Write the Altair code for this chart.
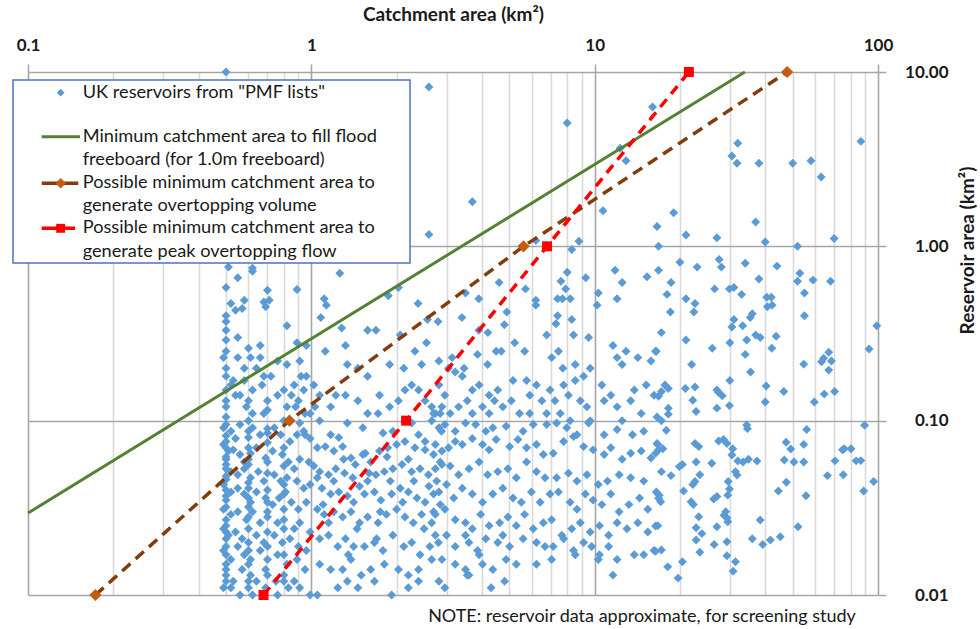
import altair as alt
import pandas as pd

# ---------------- data (km²) ----------------
x_ticks = [0.1, 1, 10, 100]
y_ticks = [0.01, 0.1, 1, 10]
x_minor = [0.2, 0.3, 0.4, 0.5, 0.6, 0.7, 0.8, 0.9,
           2, 3, 4, 5, 6, 7, 8, 9,
           20, 30, 40, 50, 60, 70, 80, 90]

fill_catch = [0.1, 33.9]
fill_res = [0.0295, 10.0]
vol_catch = [0.173, 0.837, 5.61, 47.8]
vol_res = [0.01, 0.1, 1.0, 10.0]
peak_catch = [0.678, 2.16, 6.79, 21.5]
peak_res = [0.01, 0.1, 1.0, 10.0]

res_upper = [
    (0.5, 10.0), (2.6, 8.2), (2.6, 1.17), (8.0, 5.1), (3.7, 1.8), (16, 6.3), (12.3, 3.65), (12.9, 3.1),
    (10.7, 1.6), (16.6, 1.3), (16.8, 1.0), (16.8, 0.73), (6.2, 1.08), (8.8, 1.07), (8.3, 0.96), (8.0, 0.71),
    (9.3, 0.66), (11.8, 0.73), (12.5, 0.62), (15.3, 0.67), (12.0, 0.50), (10.3, 0.54), (10.2, 0.46),
    (7.6, 0.63), (7.9, 0.57), (7.4, 0.50), (7.7, 0.50), (8.2, 0.50), (6.2, 0.49), (6.2, 0.46), (5.7, 0.57),
    (4.6, 0.62), (3.5, 0.54), (3.9, 0.50), (4.9, 0.42), (3.4, 0.39), (2.8, 0.37), (7.4, 0.40), (7.3, 0.36),
    (8.3, 0.38), (4.8, 0.355), (3.9, 0.33), (4.2, 0.32),
    (0.51, 0.76), (0.55, 0.66), (0.62, 0.72), (0.50, 0.58), (0.70, 0.56), (0.89, 0.565), (0.58, 0.49),
    (0.57, 0.44), (0.68, 0.48), (0.71, 0.49), (0.69, 0.45), (0.52, 0.47), (0.54, 0.43), (0.82, 0.35),
    (1.26, 0.70), (1.11, 0.50), (1.13, 0.46), (1.08, 0.39), (1.28, 0.34), (1.58, 0.33), (1.69, 0.33),
    (1.87, 0.52), (2.03, 0.58), (2.38, 0.47), (2.57, 0.38), (2.06, 0.31), (0.62, 0.75),
]
res_far_upper = [
    (32, 3.9), (30.5, 3.3), (31.8, 3.0), (38, 3.0), (50, 3.0), (58, 3.1), (63, 2.5), (87, 4.0), (19, 1.56),
    (21, 1.16), (27, 1.12), (37, 1.38), (40, 1.06), (52, 1.0), (70, 1.11), (20, 0.81), (23, 0.76),
    (27.5, 0.84), (28, 0.76), (34, 0.80), (44, 0.77), (53, 0.70), (52, 0.63), (59, 0.64), (68, 0.63),
    (55, 0.54), (55, 0.40), (18.6, 0.62), (18, 0.53), (18.5, 0.42), (21, 0.50), (22.6, 0.47), (22.4, 0.42),
    (26.5, 0.57), (29.9, 0.57), (31, 0.58), (33, 0.53), (38, 0.65), (40.5, 0.51), (42, 0.51), (40.7, 0.45),
    (42.3, 0.46), (31, 0.38), (33.3, 0.35), (30.5, 0.345), (36, 0.41), (35.4, 0.39), (99, 0.35), (17.2, 0.32),
]
res_far_lower = [
    (21, 0.29), (26, 0.26), (30, 0.28), (34, 0.24), (34.4, 0.29), (38.4, 0.30), (43.7, 0.305), (37, 0.31),
    (42.2, 0.26), (22, 0.21), (35.5, 0.19), (30, 0.17), (17.7, 0.16), (17.2, 0.147), (16.8, 0.138),
    (18.2, 0.153), (20.9, 0.153), (22.6, 0.156), (22.2, 0.131), (22.8, 0.113), (27, 0.150), (28.2, 0.139),
    (27.4, 0.145), (27, 0.118), (29.9, 0.122), (40.3, 0.158), (40, 0.128), (46.5, 0.147), (54.7, 0.211),
    (59.6, 0.128), (64.6, 0.142), (70.3, 0.147), (63.2, 0.218), (64.3, 0.228), (67, 0.247), (68.5, 0.22),
    (67, 0.195), (93, 0.258), (18.2, 0.118), (18.2, 0.109), (16.6, 0.105), (16.4, 0.25),
    (34.4, 0.0945), (34.6, 0.090), (56, 0.089), (89.7, 0.094), (17.9, 0.088), (16.6, 0.074), (16.4, 0.065),
    (17.4, 0.069), (16.8, 0.068), (22.6, 0.074), (23.3, 0.071), (27.4, 0.0765), (28.5, 0.078), (29.3, 0.074),
    (30.7, 0.069), (30.5, 0.0635), (32.0, 0.0587), (33.4, 0.058), (34.9, 0.060), (37.4, 0.0587), (25.9, 0.057),
    (22.8, 0.058), (19.9, 0.0545), (20.4, 0.056), (18.6, 0.0484), (23.5, 0.049), (22.6, 0.0448), (22.2, 0.043),
    (31.4, 0.051), (31.8, 0.0488), (29.6, 0.0448), (29.9, 0.0406), (29.5, 0.0374), (20.6, 0.0395),
    (16.8, 0.0359), (17.1, 0.0343), (16.9, 0.0374), (21.9, 0.0343), (22.3, 0.033), (26.3, 0.0355),
    (27.0, 0.0367), (29.0, 0.030), (28.6, 0.0287), (29.3, 0.0277), (29.5, 0.0263), (23.3, 0.0281),
    (22.8, 0.0243), (23.9, 0.0225), (22.8, 0.0207), (27, 0.0246), (23.5, 0.0176), (26.4, 0.0195),
    (29.3, 0.0202), (29.3, 0.0168), (31.4, 0.0155), (30.8, 0.0137), (20.4, 0.0155), (18.1, 0.0145),
    (19.7, 0.0125), (17.2, 0.0181), (16.4, 0.0249), (16.4, 0.0178), (38.4, 0.0269), (36, 0.021),
    (39.2, 0.0195), (41.7, 0.0207), (45.2, 0.0216), (52.2, 0.0246), (44.5, 0.0395), (47.5, 0.0443),
    (55.7, 0.0371), (46.7, 0.0595), (47.4, 0.0752), (49.2, 0.0687), (50.5, 0.058), (54.7, 0.058),
    (54.7, 0.0731), (66.3, 0.0484), (70.5, 0.0588), (75.4, 0.049), (74.9, 0.068), (80.3, 0.069),
    (83.7, 0.0588), (89, 0.0395), (96.5, 0.0448), (76, 0.069), (87, 0.059),
]
res_left_top = [
    (0.50, 0.29), (0.55, 0.30), (0.66, 0.27), (0.66, 0.23), (0.55, 0.23), (0.49, 0.23), (0.50, 0.20),
    (0.58, 0.20), (0.61, 0.23), (0.89, 0.28), (0.96, 0.27), (0.91, 0.22), (0.82, 0.21), (0.76, 0.22),
    (0.72, 0.18), (0.68, 0.18), (0.64, 0.20), (0.67, 0.16), (0.62, 0.15), (0.58, 0.17), (0.53, 0.17),
    (0.52, 0.16), (0.50, 0.12), (0.54, 0.14), (0.56, 0.14), (0.59, 0.12), (0.62, 0.11), (0.68, 0.11),
    (0.70, 0.115), (0.76, 0.14), (0.80, 0.15), (0.87, 0.16), (0.92, 0.18), (0.96, 0.18), (0.85, 0.14),
    (0.90, 0.13), (0.94, 0.15), (0.82, 0.12), (0.88, 0.12), (0.95, 0.11), (0.91, 0.097), (0.95, 0.083),
    (1.12, 0.25), (1.32, 0.27), (1.34, 0.21), (1.46, 0.20), (1.58, 0.18), (1.89, 0.21), (2.12, 0.20),
    (2.32, 0.25), (2.45, 0.21), (2.55, 0.28), (2.26, 0.16), (2.39, 0.15), (2.52, 0.13), (2.66, 0.12),
    (2.70, 0.11), (2.14, 0.15), (2.03, 0.13), (1.89, 0.12), (1.74, 0.14), (1.72, 0.11), (1.58, 0.11),
    (1.46, 0.13), (1.32, 0.14), (1.22, 0.14), (1.17, 0.12), (1.07, 0.14), (1.02, 0.16), (1.03, 0.12),
    (1.17, 0.083), (1.34, 0.097), (1.52, 0.091), (1.79, 0.085), (1.94, 0.087), (2.26, 0.097), (2.39, 0.083),
    (2.52, 0.076), (2.66, 0.10), (2.85, 0.11), (2.88, 0.087), (1.07, 0.10), (0.99, 0.11),
]
res_left_low = [
    (0.49, 0.091), (0.52, 0.087), (0.54, 0.079), (0.56, 0.095), (0.60, 0.087), (0.62, 0.091), (0.66, 0.083),
    (0.70, 0.085), (0.74, 0.091), (0.78, 0.083), (0.84, 0.076), (0.89, 0.083), (0.94, 0.087), (0.99, 0.079),
    (1.05, 0.070), (1.12, 0.071), (1.20, 0.067), (1.29, 0.071), (1.38, 0.061), (1.43, 0.056), (1.52, 0.064),
    (1.62, 0.058), (1.74, 0.067), (1.86, 0.070), (2.0, 0.073), (2.14, 0.076), (2.32, 0.070), (2.52, 0.068),
    (2.70, 0.064), (2.85, 0.058), (0.49, 0.073), (0.51, 0.067), (0.53, 0.068), (0.56, 0.064), (0.58, 0.058),
    (0.61, 0.065), (0.64, 0.070), (0.69, 0.061), (0.73, 0.067), (0.79, 0.064), (0.83, 0.058), (0.87, 0.053),
    (0.91, 0.060), (0.98, 0.058), (1.02, 0.055), (1.07, 0.051), (1.15, 0.049), (1.22, 0.053), (1.31, 0.050),
    (1.40, 0.047), (1.48, 0.042), (1.58, 0.045), (1.69, 0.049), (1.81, 0.051), (1.94, 0.053), (2.09, 0.056),
    (2.26, 0.051), (2.42, 0.053), (2.59, 0.049), (2.77, 0.045), (0.50, 0.053), (0.52, 0.051), (0.55, 0.049),
    (0.58, 0.053), (0.61, 0.047), (0.65, 0.051), (0.68, 0.045), (0.74, 0.049), (0.78, 0.045), (0.82, 0.047),
    (0.89, 0.045), (0.94, 0.041), (0.99, 0.043), (1.09, 0.041), (1.17, 0.038), (1.25, 0.039), (1.34, 0.037),
    (1.41, 0.034), (1.54, 0.038), (1.67, 0.039), (1.76, 0.035), (1.92, 0.038), (2.06, 0.041), (2.20, 0.039),
    (2.36, 0.036), (2.52, 0.034), (2.70, 0.038), (2.85, 0.033), (0.49, 0.043), (0.52, 0.039), (0.55, 0.041),
    (0.58, 0.038), (0.61, 0.034), (0.64, 0.039), (0.69, 0.036), (0.73, 0.033), (0.77, 0.036), (0.81, 0.039),
    (0.85, 0.034), (0.90, 0.031), (0.96, 0.034), (1.05, 0.031), (1.11, 0.029), (1.20, 0.030), (1.29, 0.028),
    (1.38, 0.030), (1.48, 0.026), (1.58, 0.028), (1.72, 0.026), (1.84, 0.029), (2.0, 0.031), (2.14, 0.028),
    (2.29, 0.026), (2.45, 0.029), (2.66, 0.026), (0.49, 0.031), (0.52, 0.029), (0.55, 0.030), (0.59, 0.027),
    (0.62, 0.030), (0.66, 0.026), (0.70, 0.028), (0.76, 0.026), (0.80, 0.027), (0.87, 0.024), (0.91, 0.026),
    (0.99, 0.023), (0.49, 0.024), (0.51, 0.022), (0.54, 0.023), (0.57, 0.021), (0.60, 0.020), (0.64, 0.022),
    (0.68, 0.020), (0.74, 0.022), (0.79, 0.020), (0.84, 0.021), (0.90, 0.019), (0.96, 0.018), (1.07, 0.021),
    (1.15, 0.022), (1.24, 0.019), (1.32, 0.021), (1.41, 0.019), (1.54, 0.019), (1.67, 0.020), (1.79, 0.018),
    (1.94, 0.022), (2.12, 0.019), (2.26, 0.020), (2.42, 0.017), (2.62, 0.019), (2.81, 0.020), (0.49, 0.018),
    (0.52, 0.016), (0.55, 0.019), (0.58, 0.017), (0.61, 0.016), (0.66, 0.018), (0.70, 0.016), (0.76, 0.017),
    (0.82, 0.015), (0.89, 0.016), (0.95, 0.014), (1.07, 0.015), (1.17, 0.014), (1.29, 0.014), (1.38, 0.016),
    (1.50, 0.013), (1.62, 0.014), (1.81, 0.015), (2.03, 0.014), (2.20, 0.013), (2.39, 0.014), (2.66, 0.016),
    (0.50, 0.014), (0.53, 0.012), (0.57, 0.014), (0.61, 0.013), (0.64, 0.012), (0.69, 0.014), (0.75, 0.012),
    (0.80, 0.013), (0.87, 0.012), (0.91, 0.011), (0.99, 0.010), (0.49, 0.011), (0.52, 0.011), (0.56, 0.010),
    (0.60, 0.011), (0.62, 0.010), (0.69, 0.011), (0.76, 0.010), (0.83, 0.011), (1.05, 0.010), (1.24, 0.011),
    (1.34, 0.012), (1.46, 0.011), (1.67, 0.012), (1.92, 0.010), (2.20, 0.011), (2.39, 0.012),
]
# the near-solid columns at 0.5-0.8 km² and the dense 1-3 km² block
res_columns = [
    (0.50, 0.012), (0.50, 0.013), (0.50, 0.015), (0.50, 0.017), (0.50, 0.019), (0.50, 0.021), (0.50, 0.023),
    (0.50, 0.025), (0.50, 0.027), (0.50, 0.032), (0.50, 0.035), (0.50, 0.037), (0.50, 0.040), (0.50, 0.046),
    (0.50, 0.048), (0.50, 0.056), (0.50, 0.060), (0.50, 0.062), (0.50, 0.070), (0.50, 0.076), (0.50, 0.082),
    (0.50, 0.095), (0.50, 0.105), (0.50, 0.13), (0.50, 0.15), (0.50, 0.18), (0.50, 0.25), (0.50, 0.33),
    (0.50, 0.37), (0.50, 0.40),
    (0.60, 0.012), (0.60, 0.015), (0.60, 0.018), (0.60, 0.024), (0.60, 0.028), (0.60, 0.032), (0.60, 0.036),
    (0.60, 0.041), (0.60, 0.044), (0.60, 0.056), (0.60, 0.060), (0.60, 0.070), (0.60, 0.080), (0.60, 0.100),
    (0.60, 0.13), (0.60, 0.26),
    (0.70, 0.013), (0.70, 0.019), (0.70, 0.023), (0.70, 0.030), (0.70, 0.034), (0.70, 0.040), (0.70, 0.050),
    (0.70, 0.058), (0.70, 0.075), (0.70, 0.090), (0.70, 0.13),
    (0.80, 0.012), (0.80, 0.017), (0.80, 0.024), (0.80, 0.031), (0.80, 0.038), (0.80, 0.043), (0.80, 0.055),
    (0.80, 0.070), (0.80, 0.100),
    (1.1, 0.033), (1.2, 0.045), (1.3, 0.060), (1.45, 0.024), (1.6, 0.050), (1.75, 0.030), (1.9, 0.045),
    (1.15, 0.026), (1.35, 0.017), (1.55, 0.065), (1.25, 0.080), (1.05, 0.047), (1.7, 0.021), (1.85, 0.062),
    (2.1, 0.034), (2.3, 0.045), (2.5, 0.024), (2.7, 0.030), (2.2, 0.060), (2.6, 0.042),
]
res_mid = [
    (2.82, 0.22), (3.14, 0.23), (3.05, 0.20), (3.22, 0.19), (3.46, 0.20), (3.86, 0.24), (4.19, 0.21),
    (4.49, 0.25), (4.68, 0.25), (5.22, 0.28), (5.66, 0.25), (6.77, 0.31), (8.42, 0.31), (9.52, 0.30),
    (7.45, 0.25), (7.05, 0.23), (7.72, 0.20), (8.54, 0.21), (9.64, 0.20), (11.6, 0.27), (12.9, 0.25),
    (12.0, 0.23), (12.5, 0.21), (14.2, 0.23), (15.8, 0.22), (16.5, 0.25), (3.41, 0.18), (3.70, 0.15),
    (3.91, 0.16), (4.24, 0.14), (4.55, 0.15), (4.43, 0.13), (4.74, 0.12), (5.08, 0.13), (5.15, 0.17),
    (5.75, 0.17), (5.90, 0.14), (6.23, 0.16), (6.51, 0.13), (6.96, 0.15), (7.24, 0.13), (7.77, 0.16),
    (8.08, 0.14), (8.54, 0.17), (9.14, 0.18), (8.90, 0.13), (9.39, 0.12), (2.82, 0.16), (2.96, 0.14),
    (2.89, 0.12), (2.74, 0.11), (3.09, 0.11), (3.31, 0.12), (3.55, 0.13), (3.70, 0.11), (4.02, 0.12),
    (4.24, 0.11), (5.43, 0.11), (5.90, 0.11), (6.77, 0.11), (7.56, 0.11), (8.19, 0.10), (9.64, 0.10),
    (10.6, 0.16), (11.4, 0.14), (10.8, 0.13), (12.0, 0.12), (12.5, 0.10), (13.4, 0.13), (13.8, 0.15),
    (15.2, 0.16), (16.2, 0.14), (14.6, 0.11), (17.2, 0.10),
    (2.82, 0.091), (2.96, 0.095), (3.22, 0.087), (3.50, 0.097), (3.80, 0.095), (4.13, 0.087), (4.37, 0.091),
    (4.87, 0.093), (5.59, 0.087), (6.07, 0.095), (6.77, 0.095), (7.34, 0.097), (7.97, 0.091), (8.66, 0.083),
    (9.52, 0.097), (10.8, 0.083), (12.0, 0.089), (13.6, 0.083), (14.9, 0.087), (16.7, 0.073), (2.74, 0.073),
    (2.89, 0.067), (3.05, 0.070), (3.22, 0.076), (3.41, 0.073), (3.70, 0.079), (4.02, 0.073), (4.24, 0.068),
    (4.49, 0.078), (5.01, 0.071), (5.36, 0.078), (5.75, 0.070), (6.23, 0.073), (6.59, 0.064), (7.14, 0.065),
    (7.77, 0.076), (8.42, 0.081), (9.14, 0.071), (9.87, 0.068), (10.8, 0.064), (11.4, 0.070), (12.5, 0.060),
    (13.4, 0.065), (14.6, 0.067), (15.8, 0.061), (17.2, 0.051), (2.74, 0.053), (2.89, 0.056), (3.09, 0.055),
    (3.31, 0.049), (3.60, 0.053), (3.91, 0.058), (4.19, 0.049), (4.55, 0.051), (4.94, 0.053), (5.29, 0.047),
    (5.75, 0.058), (6.23, 0.051), (6.68, 0.047), (7.34, 0.047), (8.08, 0.050), (8.66, 0.045), (9.39, 0.049),
    (10.3, 0.043), (11.1, 0.045), (12.2, 0.049), (13.4, 0.047), (14.9, 0.045), (16.5, 0.039), (2.82, 0.039),
    (3.00, 0.043), (3.18, 0.036), (3.41, 0.041), (3.70, 0.038), (4.02, 0.034), (4.37, 0.038), (4.74, 0.041),
    (5.15, 0.036), (5.51, 0.034), (5.98, 0.039), (6.42, 0.034), (6.96, 0.038), (7.45, 0.039), (8.19, 0.034),
    (8.66, 0.031), (9.27, 0.038), (9.87, 0.035), (10.6, 0.033), (11.4, 0.038), (12.2, 0.030), (13.2, 0.033),
    (14.4, 0.036), (15.4, 0.031), (16.7, 0.025), (2.74, 0.029), (2.96, 0.031), (3.22, 0.027), (3.50, 0.026),
    (3.70, 0.024), (3.96, 0.029), (4.24, 0.025), (4.62, 0.026), (4.94, 0.028), (5.29, 0.025), (5.66, 0.029),
    (6.07, 0.024), (6.59, 0.026), (7.05, 0.027), (7.66, 0.022), (8.30, 0.024), (8.90, 0.026), (9.64, 0.023),
    (10.4, 0.025), (11.2, 0.022), (12.0, 0.026), (13.0, 0.024), (14.2, 0.026), (15.4, 0.023), (2.74, 0.022),
    (3.00, 0.022), (3.22, 0.019), (3.50, 0.022), (3.60, 0.020), (3.86, 0.018), (4.13, 0.021), (4.55, 0.020),
    (4.74, 0.022), (5.01, 0.019), (5.59, 0.021), (6.23, 0.020), (6.68, 0.019), (7.14, 0.019), (7.77, 0.021),
    (8.42, 0.018), (9.14, 0.020), (9.76, 0.019), (10.4, 0.017), (11.2, 0.019), (12.0, 0.016), (13.8, 0.017),
    (14.9, 0.017), (16.2, 0.018), (2.89, 0.016), (3.22, 0.015), (3.50, 0.014), (3.60, 0.013), (3.91, 0.017),
    (4.02, 0.015), (4.37, 0.014), (4.87, 0.016), (5.29, 0.015), (6.23, 0.015), (7.05, 0.016), (8.54, 0.017),
    (10.3, 0.016), (11.6, 0.013), (2.82, 0.012), (2.96, 0.011), (4.31, 0.011), (4.81, 0.012), (3.55, 0.013),
]

# ---------------- styling constants ----------------
FONT = "Lato"
TXT = "#1a1a1a"
BLUE = "#5B9BD5"
GREEN = "#548235"
BROWN = "#843C0C"
BROWN_MK = "#C55A11"
RED = "#FF0000"
GRID_MAJOR = "#A6A6A6"
GRID_MINOR = "#D9D9D9"

IS_DECADE = "abs(log(datum.value)/LN10 - round(log(datum.value)/LN10)) < 0.001"

xs = alt.Scale(type="log", domain=[0.1, 100])
ys = alt.Scale(type="log", domain=[0.01, 10])

all_pts = (res_upper + res_far_upper + res_far_lower + res_left_top + res_left_low
           + res_columns + res_mid)
pts = pd.DataFrame(all_pts, columns=["catchment", "reservoir"])

x_axis = alt.Axis(
    orient="top", values=sorted(x_ticks + x_minor), format="~g",
    labelExpr=f"{IS_DECADE} ? datum.label : ''",
    grid=True, gridWidth=1.6,
    gridColor={"condition": {"test": IS_DECADE, "value": GRID_MAJOR}, "value": GRID_MINOR},
    domain=False, tickSize=8, tickWidth=1.5,
    tickColor={"condition": {"test": IS_DECADE, "value": GRID_MAJOR}, "value": "transparent"},
    labelFont=FONT, labelFontSize=17, labelFontWeight="bold", labelColor=TXT, labelPadding=10,
    labelFlush=False, labelOverlap=False, labelBound=False,
    title="Catchment area (km²)", titleFont=FONT, titleFontSize=19,
    titleFontWeight="bold", titleColor=TXT, titleY=-58, titleBaseline="middle",
)
y_axis = alt.Axis(
    orient="right", values=y_ticks, format=".2f",
    grid=True, gridWidth=1.6, gridColor=GRID_MAJOR,
    domain=False, tickSize=8, tickColor=GRID_MAJOR, tickWidth=1.5,
    labelFont=FONT, labelFontSize=17, labelFontWeight="bold", labelColor=TXT, labelAlign="right",
    labelBaseline="middle", labelPadding=62, labelFlush=False, labelOverlap=False,
    labelBound=False,
    title="Reservoir area (km²)", titleFont=FONT, titleFontSize=19, titleFontWeight="bold",
    titleColor=TXT, titleAngle=270, titleX=89, titleY=178, titleAlign="center",
    titleBaseline="middle",
)

scatter = alt.Chart(pts).mark_point(
    shape="diamond", filled=True, size=80, color=BLUE, opacity=1
).encode(
    x=alt.X("catchment:Q", scale=xs, axis=x_axis),
    y=alt.Y("reservoir:Q", scale=ys, axis=y_axis),
)

fill_df = pd.DataFrame({"c": fill_catch, "r": fill_res})
vol_df = pd.DataFrame({"c": vol_catch, "r": vol_res})
peak_df = pd.DataFrame({"c": peak_catch, "r": peak_res})

# no axis=None here: a null axis in any layer would hide the shared axis
enc = dict(x=alt.X("c:Q", scale=xs), y=alt.Y("r:Q", scale=ys))

fill_line = alt.Chart(fill_df).mark_line(color=GREEN, strokeWidth=3).encode(**enc)
vol_line = alt.Chart(vol_df).mark_line(color=BROWN, strokeWidth=3.5, strokeDash=[11, 7]).encode(**enc)
vol_pts = alt.Chart(vol_df).mark_point(shape="diamond", filled=True, size=150, color=BROWN_MK, opacity=1).encode(**enc)
peak_line = alt.Chart(peak_df).mark_line(color=RED, strokeWidth=3.5, strokeDash=[10, 7]).encode(**enc)
peak_pts = alt.Chart(peak_df).mark_point(shape="square", filled=True, size=100, color=RED, opacity=1).encode(**enc)

# ---------------- legend (inside plot, top-left) ----------------
one = pd.DataFrame({"k": [0]})
legend_box = alt.Chart(one).mark_rect(fill="white", stroke="#4E73BE", strokeWidth=1.5).encode(
    x=alt.value(-15), x2=alt.value(382), y=alt.value(8), y2=alt.value(191))

leg_lines = [
    ("UK reservoirs from \"PMF lists\"", 20.7),
    ("Minimum catchment area to fill flood", 64.7),
    ("freeboard (for 1.0m freeboard)", 88),
    ("Possible minimum catchment area to", 111.3),
    ("generate overtopping volume", 134),
    ("Possible minimum catchment area to", 156.3),
    ("generate peak overtopping flow", 179.7),
]
leg_texts = [
    alt.Chart(one).mark_text(align="left", baseline="middle", font=FONT, fontSize=18.2, color=TXT).encode(
        x=alt.value(54.7), y=alt.value(yy), text=alt.value(t))
    for t, yy in leg_lines
]
leg_sym = [
    alt.Chart(one).mark_point(shape="diamond", filled=True, size=60, color=BLUE, opacity=1).encode(
        x=alt.value(32.7), y=alt.value(20.7)),
    alt.Chart(one).mark_rule(color=GREEN, strokeWidth=3).encode(
        x=alt.value(13.7), x2=alt.value(52), y=alt.value(64.7)),
    alt.Chart(one).mark_rule(color=BROWN, strokeWidth=3.5).encode(
        x=alt.value(13.7), x2=alt.value(50.3), y=alt.value(111.3)),
    alt.Chart(one).mark_point(shape="diamond", filled=True, size=110, color=BROWN_MK, opacity=1).encode(
        x=alt.value(32.7), y=alt.value(111.3)),
    alt.Chart(one).mark_rule(color=RED, strokeWidth=3.5).encode(
        x=alt.value(13.7), x2=alt.value(47), y=alt.value(156.3)),
    alt.Chart(one).mark_point(shape="square", filled=True, size=80, color=RED, opacity=1).encode(
        x=alt.value(32.7), y=alt.value(156.3)),
]

note = alt.Chart(one).mark_text(align="center", baseline="middle", font=FONT, fontSize=18, color=TXT).encode(
    x=alt.value(614), y=alt.value(545),
    text=alt.value("NOTE: reservoir data approximate,  for screening study"))

chart = alt.layer(
    scatter,
    fill_line, vol_line, vol_pts, peak_line, peak_pts,
    legend_box, *leg_sym, *leg_texts, note,
).properties(
    width=850, height=523,
    padding={"left": 28, "top": 72, "right": 102, "bottom": 34},
    autosize=alt.AutoSizeParams(type="none"),
    background="white",
).configure_view(stroke=None)

chart.save("out.html", embed_options={"renderer": "svg", "actions": False})
